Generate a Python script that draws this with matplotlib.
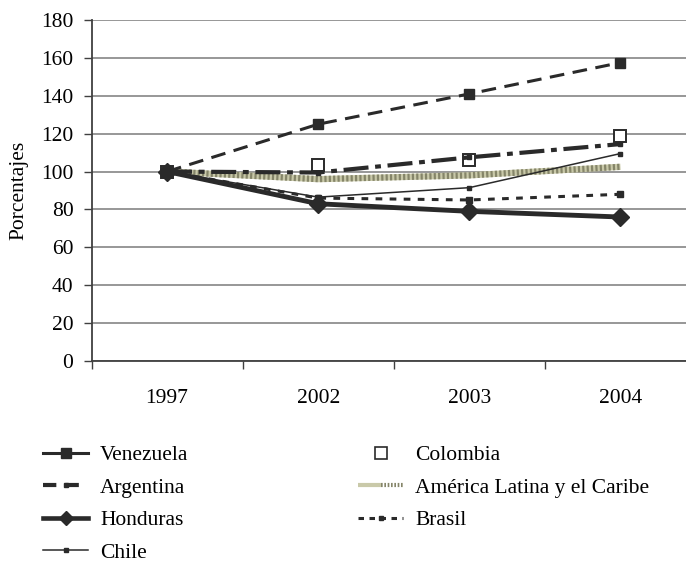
import numpy as np
import matplotlib
matplotlib.use("Agg")
import matplotlib.pyplot as plt
from matplotlib.lines import Line2D
from matplotlib.legend_handler import HandlerTuple

plt.rcParams['font.family'] = ['Liberation Serif', 'DejaVu Serif']

years = ['1997', '2002', '2003', '2004']
venezuela = [100, 125, 141, 157.5]
colombia = [100, 103.5, 106, 119]
argentina = [100, 99.5, 107.5, 114.5]
alc = [100, 96, 98, 102.5]
honduras = [100, 83, 79, 76]
brasil = [100, 86, 85, 88]
chile = [100, 86.5, 91.5, 109.5]
yticks = list(range(0, 181, 20))

W, H = 686, 564
fig = plt.figure(figsize=(W / 100, H / 100), dpi=100)
ax = fig.add_axes([91.5 / W, (H - 361) / H, (696 - 91.5) / W, (361 - 20) / H])

x = np.arange(len(years))
dark = '#2a2a2a'
FS = 15.5

col, = ax.plot(x, colombia, linestyle='none', marker='s', markersize=8.5,
               markerfacecolor='white', markeredgecolor=dark, markeredgewidth=1.4, zorder=2.5)

# America Latina y el Caribe: striped olive line
alc_base, = ax.plot(x, alc, color='#c9c9a9', lw=4.5, solid_capstyle='butt', zorder=2)
alc_top, = ax.plot(x, alc, color='#858569', lw=4.5, linestyle=(0, (0.35, 0.35)), zorder=2.1)

arg, = ax.plot(x, argentina, color=dark, lw=3.0, linestyle=(0, (6, 1.6, 1.4, 1.6)),
               marker='s', markersize=3.5, zorder=3)
hon, = ax.plot(x, honduras, color=dark, lw=3.5, marker='D', markersize=9, zorder=3.5)
bra, = ax.plot(x, brasil, color=dark, lw=2.2, linestyle=(0, (2.2, 2.4)),
               marker='s', markersize=4, zorder=3)
chi, = ax.plot(x, chile, color=dark, lw=1.1, marker='s', markersize=3.5, zorder=3)
ven, = ax.plot(x, venezuela, color=dark, lw=2.2, linestyle=(0, (4.8, 2.8)),
               marker='s', markersize=7.5, zorder=4)

ax.set_xlim(-0.5, 3.5)
ax.set_ylim(0, 180)
ax.set_yticks(yticks)
ax.yaxis.grid(True, color='#7a7a7a', lw=1.1)
ax.set_axisbelow(True)
for s in ['top', 'right']:
    ax.spines[s].set_visible(False)
for s in ['left', 'bottom']:
    ax.spines[s].set_color('#404040')
    ax.spines[s].set_linewidth(1.3)

ax.set_xticks(np.arange(len(years)) - 0.5)
ax.set_xticklabels([''] * len(years))
ax.set_xticks(x, minor=True)
ax.set_xticklabels(years, minor=True)
ax.tick_params(axis='x', which='major', length=6, width=1, color='#404040', direction='out')
ax.tick_params(axis='x', which='minor', length=0, pad=20, labelsize=FS)
ax.tick_params(axis='y', length=6, width=1, color='#404040', pad=7, labelsize=FS)
ax.set_ylabel('Porcentajes', fontsize=FS, labelpad=9)

# legend proxies (legend swatches are drawn thinner than the plotted lines)
p_ven = Line2D([], [], color=dark, lw=2.2, marker='s', markersize=6.5)
p_arg = Line2D([], [], color=dark, lw=3.0, linestyle=(0, (3.2, 2.2)), marker='s', markersize=3)
p_hon = Line2D([], [], color=dark, lw=3.3, marker='D', markersize=7.5)
p_chi = Line2D([], [], color=dark, lw=1.1, marker='s', markersize=3)
p_col = Line2D([], [], linestyle='none', marker='s', markersize=8,
               markerfacecolor='white', markeredgecolor=dark, markeredgewidth=1.2)
p_alc1 = Line2D([], [], color='#c9c9a9', lw=3, solid_capstyle='butt')
p_alc2 = Line2D([], [], color='#858569', lw=3, linestyle=(0, (0.4, 0.4)))
p_bra = Line2D([], [], color=dark, lw=2.2, linestyle=(0, (1.8, 1.8)), marker='s', markersize=3.5)

leg_kw = dict(frameon=False, fontsize=FS, handlelength=2.1, handletextpad=0.55,
              labelspacing=0.58, borderpad=0, borderaxespad=0, loc='upper left')
leg1 = fig.legend([p_ven, p_arg, p_hon, p_chi], ['Venezuela', 'Argentina', 'Honduras', 'Chile'],
                  bbox_to_anchor=(43 / W, (H - 445) / H), **leg_kw)
leg2 = fig.legend([p_col, (p_alc1, p_alc2), p_bra],
                  ['Colombia', 'América Latina y el Caribe', 'Brasil'],
                  handler_map={tuple: HandlerTuple(ndivide=None)},
                  bbox_to_anchor=(358 / W, (H - 445) / H), **leg_kw)

fig.savefig('out.png', dpi=100)
